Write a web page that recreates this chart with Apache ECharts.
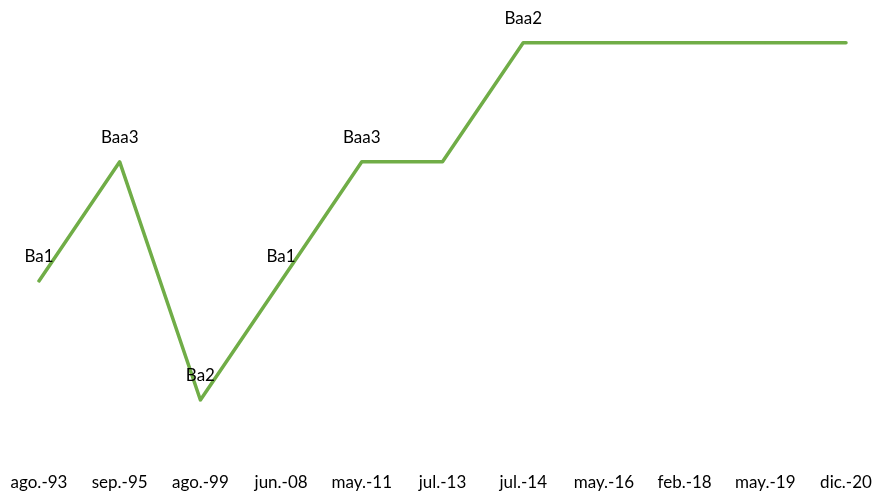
<!DOCTYPE html>
<html>
<head>
<meta charset="utf-8">
<script src="https://cdn.jsdelivr.net/npm/echarts@6/dist/echarts.min.js"></script>
<style>
html,body{margin:0;padding:0;background:#fff;}
#chart{width:879px;height:494px;}
</style>
</head>
<body>
<div id="chart"></div>
<script>
const categories = ['ago.-93','sep.-95','ago.-99','jun.-08','may.-11','jul.-13','jul.-14','may.-16','feb.-18','may.-19','dic.-20'];
const ratingLevels = ['Ba2','Ba1','Baa3','Baa2']; // level 1..4
const ratings = ['Ba1','Baa3','Ba2','Ba1','Baa3','Baa3','Baa2','Baa2','Baa2','Baa2','Baa2'];
const showLabel = [true,true,true,true,true,false,true,false,false,false,false];

const data = ratings.map((r,i)=>({
  value: ratingLevels.indexOf(r)+1,
  label: {show: showLabel[i], formatter: r}
}));

const chart = echarts.init(document.getElementById('chart'));
chart.setOption({
  animation:false,
  grid:{left:39,right:33,top:13,bottom:34.5,containLabel:false},
  xAxis:{
    type:'category',
    data:categories,
    boundaryGap:false,
    axisLine:{show:false},
    axisTick:{show:false},
    splitLine:{show:false},
    axisLabel:{color:'#000',fontFamily:'Lato',fontSize:17,margin:15,interval:0}
  },
  yAxis:{
    type:'value',min:0.5,max:4.25,show:false,splitLine:{show:false}
  },
  series:[{
    type:'line',
    data:data,
    showSymbol:true,
    symbol:'circle',
    symbolSize:1,
    itemStyle:{color:'#70AD47',borderWidth:0},
    lineStyle:{color:'#70AD47',width:3.5,cap:'round',join:'round'},
    label:{show:true,position:'top',distance:15,color:'#000',fontFamily:'Lato',fontSize:17}
  }]
});
</script>
</body>
</html>
